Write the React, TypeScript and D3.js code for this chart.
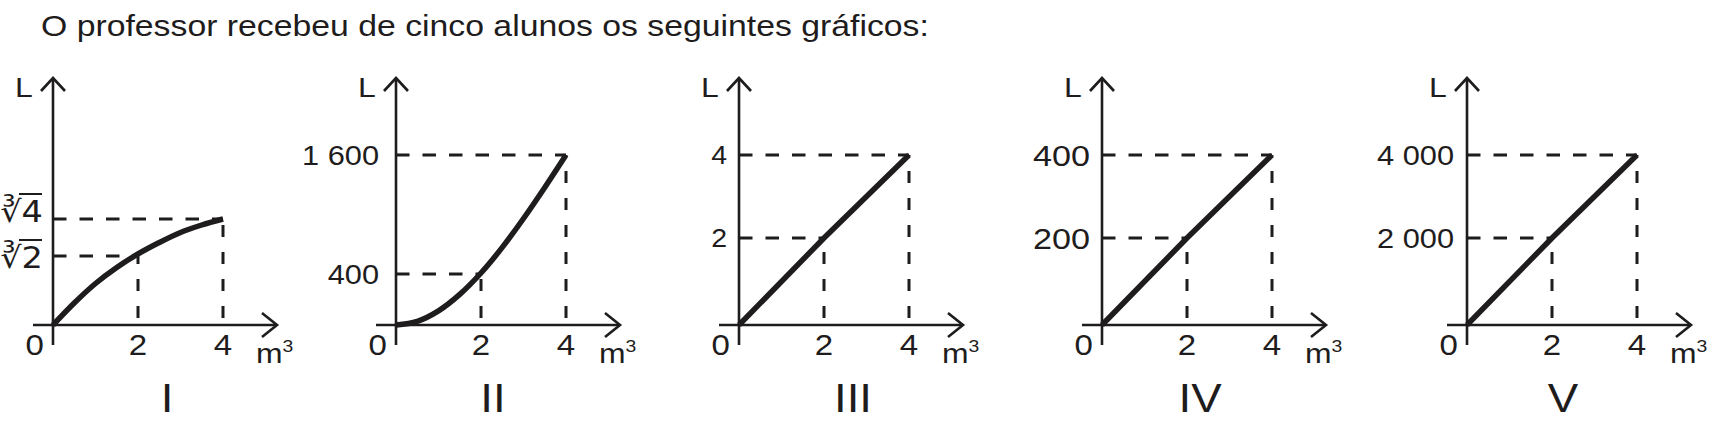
import React from "react";
import * as d3 from "d3";

// ---------- data ----------
const title = "O professor recebeu de cinco alunos os seguintes gráficos:";
const panelNames = ["I", "II", "III", "IV", "V"];
const xTicks = [2, 4];
const xMax = 4;
const xZeroLabel = "0";
const xUnit = "m";
const xUnitExp = "3";
const yUnit = "L";

// y tick values per graph (same order as xTicks)
const yTicksI = [1.26, 1.587]; // ∛2, ∛4
const yTicksII = [400, 1600];
const yTicksIII = [2, 4];
const yTicksIV = [200, 400];
const yTicksV = [2000, 4000];

// y tick labels
const yLabelsI = ["∛2", "∛4"];
const yLabelsII = ["400", "1 600"];
const yLabelsIII = ["2", "4"];
const yLabelsIV = ["200", "400"];
const yLabelsV = ["2 000", "4 000"];

// curves: [m³, L]
const curveI = [
  [0, 0], [0.5, 0.402], [1, 0.758], [1.5, 1.05], [2, 1.278],
  [2.5, 1.379], [3, 1.468], [3.5, 1.534], [4, 1.587],
];
const curveII = [
  [0, 0], [0.5, 29], [1, 111], [1.5, 240], [2, 410],
  [2.5, 668], [3, 960], [3.5, 1273], [4, 1600],
];
const lineIII = [[0, 0], [2, 2], [4, 4]];
const lineIV = [[0, 0], [2, 200], [4, 400]];
const lineV = [[0, 0], [2, 2000], [4, 4000]];

// ---------- layout ----------
const W = 1716;
const H = 434;
const ink = "#1e1c1c";
const FONT = "'Liberation Sans', Arial, Helvetica, sans-serif";
const MATH_FONT = "'DejaVu Sans', sans-serif";
const SX = 1.14;
const axisY = 325;
const axisTop = 78;
const axisBottom = 345;
const xSpan = 170;
const originX = [53, 396, 739, 1102, 1467];
const numeralX = [167, 493, 853, 1200, 1563];
const yPixels = [
  [256, 219],
  [274, 155],
  [238, 155],
  [238, 155],
  [238, 155],
];
const yLabelSize = [30, 27, 25, 30, 27];
const yLabelGap = [10, 17, 12, 12, 13];
const radicalBaseline = [268, 222];

type Pt = number[];
type Panel = {
  ticks: number[];
  labels: string[];
  data: Pt[];
  curve: d3.CurveFactory;
};

const panels: Panel[] = [
  { ticks: yTicksI, labels: yLabelsI, data: curveI, curve: d3.curveCatmullRom },
  { ticks: yTicksII, labels: yLabelsII, data: curveII, curve: d3.curveCatmullRom },
  { ticks: yTicksIII, labels: yLabelsIII, data: lineIII, curve: d3.curveLinear },
  { ticks: yTicksIV, labels: yLabelsIV, data: lineIV, curve: d3.curveLinear },
  { ticks: yTicksV, labels: yLabelsV, data: lineV, curve: d3.curveLinear },
];

function Txt({
  x,
  y,
  size,
  anchor = "start",
  sx = SX,
  family = FONT,
  children,
}: {
  x: number;
  y: number;
  size: number;
  anchor?: string;
  sx?: number;
  family?: string;
  children: React.ReactNode;
}) {
  return (
    <text
      transform={`translate(${x},${y}) scale(${sx},1)`}
      fontSize={size}
      textAnchor={anchor as any}
      fontFamily={family}
      fill={ink}
    >
      {children}
    </text>
  );
}

function Graph({ p, i }: { p: Panel; i: number }) {
  const ox = originX[i];
  const xs = d3.scaleLinear().domain([0, xMax]).range([ox, ox + xSpan]);
  const ys = d3
    .scaleLinear()
    .domain([0, ...p.ticks])
    .range([axisY, ...yPixels[i]]);
  const line = d3
    .line<Pt>()
    .x((d) => xs(d[0]))
    .y((d) => ys(d[1]))
    .curve(p.curve);
  const tipX = ox + 224;
  const sw = 2.6;
  const isRoot = i === 0;
  return (
    <g>
      {/* dashed guides */}
      {p.ticks.map((t, k) => {
        const px = xs(xTicks[k]);
        const py = ys(t);
        return (
          <g key={k} stroke={ink} strokeWidth={3} fill="none">
            <line x1={ox} y1={py} x2={px} y2={py} strokeDasharray="13.5 13" />
            <line
              x1={px}
              y1={axisY}
              x2={px}
              y2={py}
              strokeDasharray="12 15"
              strokeDashoffset={20}
            />
          </g>
        );
      })}
      {/* axes */}
      <g stroke={ink} strokeWidth={sw} fill="none">
        <line x1={ox - 20} y1={axisY} x2={tipX} y2={axisY} />
        <line x1={ox} y1={axisBottom} x2={ox} y2={axisTop} />
        <polyline
          points={`${ox - 12},${axisTop + 13} ${ox},${axisTop} ${ox + 12},${axisTop + 13}`}
        />
        <polyline
          points={`${tipX - 15},${axisY - 12} ${tipX},${axisY} ${tipX - 15},${axisY + 12}`}
        />
      </g>
      {/* curve */}
      <path d={line(p.data) || ""} stroke={ink} strokeWidth={5.5} fill="none" />
      {/* x labels */}
      <Txt x={ox - 9} y={355} size={29} anchor="end">
        {xZeroLabel}
      </Txt>
      {xTicks.map((v) => (
        <Txt key={v} x={xs(v)} y={355} size={29} anchor="middle">
          {String(v)}
        </Txt>
      ))}
      <Txt x={ox + 203} y={363} size={28}>
        {xUnit}
        <tspan fontSize={17} dy={-11}>
          {xUnitExp}
        </tspan>
      </Txt>
      <Txt x={ox - 38} y={97} size={28}>
        {yUnit}
      </Txt>
      {/* y labels */}
      {p.labels.map((lab, k) =>
        isRoot ? (
          <g key={k}>
            <Txt
              x={43}
              y={radicalBaseline[k]}
              size={30}
              anchor="end"
              sx={1.12}
              family={MATH_FONT}
            >
              {lab}
            </Txt>
            <line
              x1={19}
              y1={radicalBaseline[k] - 28}
              x2={42}
              y2={radicalBaseline[k] - 28}
              stroke={ink}
              strokeWidth={2}
            />
          </g>
        ) : (
          <Txt
            key={k}
            x={ox - yLabelGap[i]}
            y={ys(p.ticks[k]) + yLabelSize[i] * 0.358}
            size={yLabelSize[i]}
            anchor="end"
          >
            {lab}
          </Txt>
        )
      )}
      <Txt x={numeralX[i]} y={412} size={40} anchor="middle">
        {panelNames[i]}
      </Txt>
    </g>
  );
}

export default function App() {
  return (
    <svg
      width={W}
      height={H}
      viewBox={`0 0 ${W} ${H}`}
      style={{ position: "absolute", left: 0, top: 0, background: "#fff" }}
    >
      <rect width={W} height={H} fill="#fff" />
      <Txt x={41} y={36} size={29.5} sx={1.145}>
        {title}
      </Txt>
      {panels.map((p, i) => (
        <Graph key={i} p={p} i={i} />
      ))}
    </svg>
  );
}
